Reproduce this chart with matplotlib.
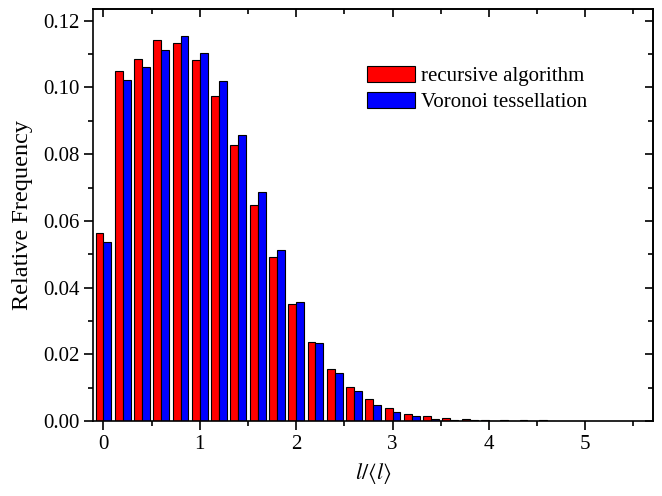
import matplotlib
matplotlib.use("Agg")
import matplotlib.pyplot as plt
import numpy as np
from matplotlib.ticker import MultipleLocator, FormatStrFormatter

# histogram bins of l/<l> (bin width 0.2)
BIN_CENTERS = np.arange(0.0, 4.8, 0.2)

RECURSIVE = [0.0564, 0.1048, 0.1086, 0.1142, 0.1132, 0.1082, 0.0974, 0.0828,
             0.0649, 0.0491, 0.0352, 0.0236, 0.0156, 0.0101, 0.0065, 0.0038,
             0.0021, 0.0014, 0.0008, 0.0005, 0.0003, 0.0002, 0.0002, 0.0002]
VORONOI = [0.0536, 0.1022, 0.1061, 0.1113, 0.1155, 0.1104, 0.1018, 0.0857,
           0.0688, 0.0514, 0.0356, 0.0234, 0.0145, 0.0089, 0.0048, 0.0027,
           0.0015, 0.0007, 0.0004, 0.0002, 0.0001, 0.0001, 0.0001, 0.0001]

LABELS = ["recursive algorithm", "Voronoi tessellation"]
COLORS = ["#FF0000", "#0000FF"]


def main():
    plt.rcParams.update({
        "font.family": "Liberation Serif",
        "mathtext.fontset": "stix",
        "axes.linewidth": 1.2,
    })

    fig = plt.figure(figsize=(6.62, 4.96), dpi=100)
    ax = fig.add_axes([0.141, 0.151, 0.845, 0.830])

    w = 0.082
    ax.bar(BIN_CENTERS - w / 2, RECURSIVE, width=w, color=COLORS[0],
           edgecolor="black", linewidth=0.8, label=LABELS[0])
    ax.bar(BIN_CENTERS + w / 2, VORONOI, width=w, color=COLORS[1],
           edgecolor="black", linewidth=0.8, label=LABELS[1])

    ax.set_xlim(-0.105, 5.7)
    ax.set_ylim(0, 0.1234)

    ax.xaxis.set_major_locator(MultipleLocator(1))
    ax.xaxis.set_minor_locator(MultipleLocator(0.5))
    ax.yaxis.set_major_locator(MultipleLocator(0.02))
    ax.yaxis.set_minor_locator(MultipleLocator(0.01))
    ax.yaxis.set_major_formatter(FormatStrFormatter("%.2f"))
    ax.tick_params(which="both", direction="out", width=1.2, labelsize=15)
    ax.tick_params(which="major", length=6.5)
    ax.tick_params(which="minor", length=3.3)

    # top/right spines carry inward ticks without labels
    top = ax.secondary_xaxis("top")
    top.xaxis.set_major_locator(MultipleLocator(1))
    top.xaxis.set_minor_locator(MultipleLocator(0.5))
    top.tick_params(which="both", direction="in", width=1.2, labeltop=False)
    top.tick_params(which="major", length=5.5)
    top.tick_params(which="minor", length=3.3)
    right = ax.secondary_yaxis("right")
    right.yaxis.set_major_locator(MultipleLocator(0.02))
    right.yaxis.set_minor_locator(MultipleLocator(0.01))
    right.tick_params(which="both", direction="in", width=1.2, labelright=False)
    right.tick_params(which="major", length=5.5)
    right.tick_params(which="minor", length=3.3)

    ax.set_xlabel(r"$l/\langle l\rangle$", fontsize=16, labelpad=5)
    ax.set_ylabel("Relative Frequency", fontsize=17.5, labelpad=7)

    ax.legend(loc="upper left", bbox_to_anchor=(367 / 662, 1 - 66 / 496),
              bbox_transform=fig.transFigure, frameon=False, fontsize=15,
              handlelength=2.3, handleheight=0.82, handletextpad=0.3,
              labelspacing=0.27, borderpad=0, borderaxespad=0)

    fig.savefig("out.png", dpi=100)
    plt.close(fig)


if __name__ == "__main__":
    main()
